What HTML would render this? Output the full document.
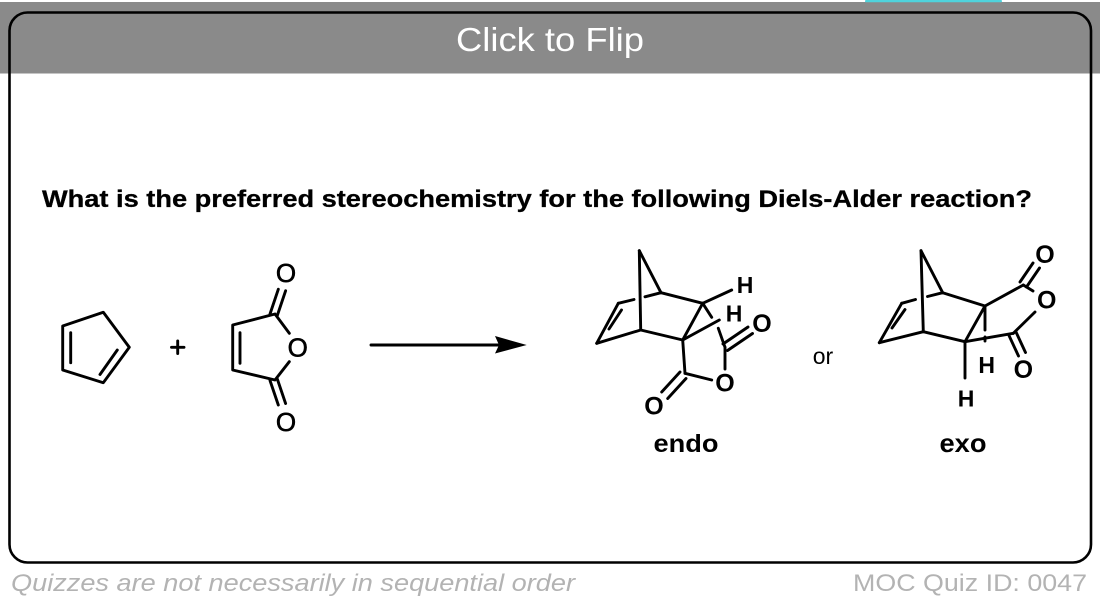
<!DOCTYPE html>
<html><head><meta charset="utf-8"><style>
html,body{margin:0;padding:0;background:#fff;}
svg{display:block;}
text{font-family:"Liberation Sans",Arial,sans-serif;}
</style></head><body>
<svg width="1100" height="604" viewBox="0 0 1100 604" xmlns="http://www.w3.org/2000/svg">
<rect x="0" y="0" width="1100" height="604" fill="#fff"/>
<rect x="0" y="2" width="1100" height="71.5" fill="#8a8a8a"/>
<rect x="865" y="0" width="137" height="2.2" rx="1" fill="#4fd3dc"/>
<rect x="9.5" y="12.5" width="1081.5" height="550" rx="18" ry="18" fill="none" stroke="#000" stroke-width="2.6"/>
<text x="550" y="51" font-size="33" fill="#fff" text-anchor="middle" textLength="188" lengthAdjust="spacingAndGlyphs">Click to Flip</text>

<text x="42" y="207" font-size="24" font-weight="bold" fill="#000" stroke="#000" stroke-width="0.3" textLength="990" lengthAdjust="spacingAndGlyphs">What is the preferred stereochemistry for the following Diels-Alder reaction?</text>

<g stroke="#000" stroke-width="2.9" fill="none" stroke-linecap="round" stroke-linejoin="round">
<!-- cyclopentadiene -->
<polygon points="103.3,312.3 129.3,347.3 103.3,382.7 62.7,370 62.7,326"/>
<line x1="70.7" y1="332.7" x2="70.7" y2="362.7"/>
<line x1="117.3" y1="350" x2="100" y2="374.5"/>
<!-- plus -->
<line x1="171.5" y1="347.3" x2="184" y2="347.3"/>
<line x1="177.7" y1="341" x2="177.7" y2="353.5"/>
<!-- maleic anhydride -->
<polyline points="289.3,333.3 275,314 232.7,325 232.7,370 275,380 289.3,361.7"/>
<line x1="240" y1="332.7" x2="240" y2="363.3"/>
<line x1="270" y1="314" x2="278.3" y2="289.3"/>
<line x1="277.3" y1="315.5" x2="285.6" y2="290.8"/>
<line x1="270" y1="380.5" x2="278.3" y2="405"/>
<line x1="277.3" y1="379" x2="285.6" y2="403.5"/>
<!-- arrow -->
<line x1="371" y1="345" x2="505" y2="345"/>
</g>
<polygon points="526.7,345 495,336 499,345 495,353.5" fill="#000"/>

<g font-size="26" text-anchor="middle" stroke="#000" stroke-width="0.6">
<text x="286" y="282">O</text>
<text x="297.7" y="356.5">O</text>
<text x="286" y="431">O</text>
</g>

<!-- endo -->
<g stroke="#000" stroke-width="2.9" fill="none" stroke-linecap="round" stroke-linejoin="round">
<line x1="639.3" y1="250.7" x2="640.7" y2="330"/>
<line x1="639.3" y1="250.7" x2="661" y2="292.7"/>
<line x1="596.7" y1="343.3" x2="618.3" y2="303.3"/>
<line x1="618.3" y1="303.3" x2="634" y2="299.5"/>
<line x1="645" y1="296.8" x2="661" y2="292.7"/>
<line x1="609" y1="329" x2="621.5" y2="310"/>
<line x1="596.7" y1="343.3" x2="640.7" y2="330"/>
<line x1="640.7" y1="330" x2="682.7" y2="340"/>
<line x1="661" y1="292.7" x2="702.7" y2="303.3"/>
<line x1="702.7" y1="303.3" x2="682.7" y2="340"/>
<line x1="702.7" y1="303.3" x2="731.7" y2="290"/>
<line x1="702.7" y1="303.3" x2="711.7" y2="317.3"/>
<line x1="718.3" y1="328.3" x2="725" y2="347.3"/>
<line x1="682.7" y1="340" x2="719.3" y2="320"/>
<line x1="723" y1="344" x2="748" y2="327"/>
<line x1="727.5" y1="350.5" x2="752.5" y2="333.5"/>
<line x1="725" y1="347.3" x2="725" y2="369"/>
<line x1="682.7" y1="340" x2="685" y2="373.3"/>
<line x1="685" y1="373.3" x2="711.7" y2="380"/>
<line x1="680" y1="372" x2="661.7" y2="392"/>
<line x1="686" y1="378.5" x2="667.7" y2="398.5"/>
</g>
<text x="745" y="293" font-size="23" font-weight="bold" text-anchor="middle">H</text>
<text x="734" y="321.5" font-size="23" font-weight="bold" text-anchor="middle">H</text>
<text x="762" y="332" font-size="25" font-weight="bold" text-anchor="middle">O</text>
<text x="725" y="391.5" font-size="25" font-weight="bold" text-anchor="middle">O</text>
<text x="654" y="414.5" font-size="25" font-weight="bold" text-anchor="middle">O</text>
<text x="686" y="452" font-size="25" font-weight="bold" text-anchor="middle" textLength="65" lengthAdjust="spacingAndGlyphs">endo</text>

<text x="823" y="364" font-size="23" text-anchor="middle">or</text>

<!-- exo -->
<g stroke="#000" stroke-width="2.9" fill="none" stroke-linecap="round" stroke-linejoin="round">
<line x1="921" y1="250.7" x2="923.3" y2="331.7"/>
<line x1="921" y1="250.7" x2="942.7" y2="292.7"/>
<line x1="879.3" y1="342.7" x2="901.7" y2="303.3"/>
<line x1="901.7" y1="303.3" x2="915.5" y2="299.5"/>
<line x1="927.5" y1="296.5" x2="942.7" y2="292.7"/>
<line x1="892" y1="328" x2="905" y2="309.5"/>
<line x1="879.3" y1="342.7" x2="923.3" y2="331.7"/>
<line x1="923.3" y1="331.7" x2="965" y2="341.7"/>
<line x1="942.7" y1="292.7" x2="985" y2="306"/>
<line x1="985" y1="306" x2="965" y2="341.7"/>
<line x1="985" y1="306" x2="985" y2="330"/>
<line x1="985" y1="337" x2="985" y2="341"/>
<line x1="965" y1="341.7" x2="965" y2="378"/>
<line x1="985" y1="306" x2="1023.3" y2="285"/>
<line x1="1020" y1="282" x2="1033" y2="263"/>
<line x1="1026.5" y1="287" x2="1039.5" y2="268"/>
<line x1="1023.3" y1="285" x2="1033" y2="291"/>
<line x1="965" y1="341.7" x2="1013.3" y2="333.3"/>
<line x1="1013.3" y1="333.3" x2="1035" y2="312"/>
<line x1="1009" y1="335.5" x2="1018.5" y2="356"/>
<line x1="1016" y1="332" x2="1025.5" y2="352.5"/>
</g>
<text x="1045" y="263" font-size="25" font-weight="bold" text-anchor="middle">O</text>
<text x="1046.7" y="308.5" font-size="25" font-weight="bold" text-anchor="middle">O</text>
<text x="1023.3" y="378" font-size="25" font-weight="bold" text-anchor="middle">O</text>
<text x="986.7" y="373" font-size="23" font-weight="bold" text-anchor="middle">H</text>
<text x="966" y="406.5" font-size="23" font-weight="bold" text-anchor="middle">H</text>
<text x="963" y="452" font-size="26" font-weight="bold" text-anchor="middle" textLength="47" lengthAdjust="spacingAndGlyphs">exo</text>

<text x="11" y="591" font-size="24" font-style="italic" fill="#b3b3b3" textLength="564" lengthAdjust="spacingAndGlyphs">Quizzes are not necessarily in sequential order</text>
<text x="853" y="591" font-size="24" fill="#b3b3b3" textLength="234" lengthAdjust="spacingAndGlyphs">MOC Quiz ID: 0047</text>
</svg>
</body></html>
